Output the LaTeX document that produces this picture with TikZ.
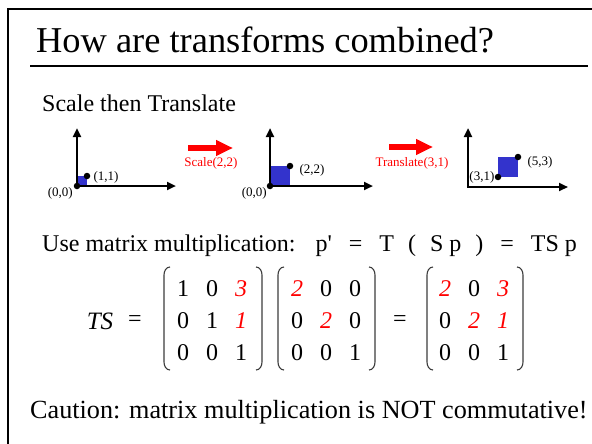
\documentclass[tikz,border=0pt]{standalone}
\usepackage{fontspec}
\setmainfont{Liberation Serif}
\newfontfamily\rawserif{Liberation Serif}
\usetikzlibrary{arrows.meta}
\definecolor{sqblue}{RGB}{51,51,204}
\definecolor{tred}{RGB}{255,0,0}
\definecolor{brk}{RGB}{60,60,60}
\begin{document}
\begin{tikzpicture}[x=1pt,y=-1pt,
  axis/.style={line width=2.5pt,-{Triangle[length=9pt,width=8pt]}},
  dot/.style={circle,fill=black,inner sep=0pt,minimum size=6.5pt},
  lbl/.style={font=\fontsize{13}{15}\selectfont,inner sep=1pt},
  redlbl/.style={lbl,text=tred},
  redarrow/.style={draw=tred,line width=6pt,-{Triangle[length=17pt,width=15pt]}},
  body/.style={font=\fontsize{24}{28}\selectfont,inner sep=0pt,anchor=base west},
  ent/.style={font=\fontsize{24}{28}\selectfont,inner sep=0pt},
  rent/.style={ent,text=tred,font=\fontsize{24}{28}\selectfont\itshape},
  bracket/.style={draw=brk,line width=1.1pt}
]
\useasboundingbox (0,0) rectangle (592,444);
\fill[white] (0,0) rectangle (592,444);
% frame
\draw[line width=2.5pt] (8,446) -- (8,9) -- (594,9);
% title
\node[anchor=base west,inner sep=0pt,font=\fontsize{36.4}{40}\selectfont] (title) at (36,53) {How are transforms combined?};
\coordinate (ulA) at (30,66);
\coordinate (ulB) at (588,66);
\draw[line width=2pt] (ulA) -- (ulB);
\node[body] (sub) at (42,111) {Scale then Translate};

% graph 1
\coordinate (o1) at (77,186);
\coordinate (y1) at (77,128);
\coordinate (x1) at (176,186);
\fill[sqblue] (o1) rectangle ++(10,-10);
\draw[axis] ([yshift=1.25pt]o1) -- (y1);
\draw[axis] ([xshift=-1.25pt]o1) -- (x1);
\node[dot] (d1o) at (o1) {};
\node[dot] (d1) at (87,176) {};
\node[lbl,anchor=west] (l1) at ([xshift=2pt,yshift=-1pt]d1.east) {(1,1)};
\node[lbl,anchor=east] (l1o) at (74,193) {(0,0)};

% arrow 1
\coordinate (a1s) at (188,148);
\coordinate (a1e) at (233,148);
\draw[redarrow] (a1s) -- (a1e);
\node[redlbl] (t1) at (211,163) {Scale(2,2)};

% graph 2
\coordinate (o2) at (270,186);
\coordinate (y2) at (270,128);
\coordinate (x2) at (373,186);
\fill[sqblue] (o2) rectangle ++(20,-20);
\draw[axis] ([yshift=1.25pt]o2) -- (y2);
\draw[axis] ([xshift=-1.25pt]o2) -- (x2);
\node[dot] (d2o) at (o2) {};
\node[dot] (d2) at (290,166) {};
\node[lbl,anchor=west] (l2) at ([xshift=5pt,yshift=-4pt]d2.east) {(2,2)};
\node[lbl,anchor=east] (l2o) at (268,193) {(0,0)};

% arrow 2
\coordinate (a2s) at (389,147);
\coordinate (a2e) at (433,147);
\draw[redarrow] (a2s) -- (a2e);
\node[redlbl] (t2) at (412,163) {Translate(3,1)};

% graph 3
\coordinate (o3) at (468,187);
\coordinate (y3) at (468,128);
\coordinate (x3) at (568,187);
\fill[sqblue] (498,177) rectangle (518,157);
\draw[axis] ([yshift=1.25pt]o3) -- (y3);
\draw[axis] ([xshift=-1.25pt]o3) -- (x3);
\node[dot] (d3a) at (498,177) {};
\node[dot] (d3b) at (518,157) {};
\node[lbl,anchor=east] (l3a) at ([xshift=1pt]d3a.west) {(3,1)};
\node[lbl,anchor=west] (l3b) at ([xshift=5pt,yshift=-5pt]d3b.east) {(5,3)};

% equation line
\node[body] (use) at (42,251) {Use matrix multiplication:\hspace{20pt}p{\rawserif '}\hspace{17pt}=\hspace{17pt}T\hspace{14pt}(\hspace{14pt}S p\hspace{14pt})\hspace{17pt}=\hspace{17pt}TS p};

% matrices
\node[font=\fontsize{25}{28}\selectfont\itshape,inner sep=0pt] (ts) at (100,321) {TS};
\node[ent] (eq1) at (135,321) {=};
\node[ent] (eq2) at (400,321) {=};

% matrix 1
\node[ent] (a11) at (183,289) {1};
\node[ent] (a12) at (212,289) {0};
\node[rent] (a13) at (241,289) {3};
\node[ent] (a21) at (183,321) {0};
\node[ent] (a22) at (212,321) {1};
\node[rent] (a23) at (241,321) {1};
\node[ent] (a31) at (183,353) {0};
\node[ent] (a32) at (212,353) {0};
\node[ent] (a33) at (241,353) {1};
% matrix 2
\node[rent] (b11) at (297,289) {2};
\node[ent] (b12) at (326,289) {0};
\node[ent] (b13) at (355,289) {0};
\node[ent] (b21) at (297,321) {0};
\node[rent] (b22) at (326,321) {2};
\node[ent] (b23) at (355,321) {0};
\node[ent] (b31) at (297,353) {0};
\node[ent] (b32) at (326,353) {0};
\node[ent] (b33) at (355,353) {1};
% matrix 3
\node[rent] (c11) at (445,289) {2};
\node[ent] (c12) at (474,289) {0};
\node[rent] (c13) at (503,289) {3};
\node[ent] (c21) at (445,321) {0};
\node[rent] (c22) at (474,321) {2};
\node[rent] (c23) at (503,321) {1};
\node[ent] (c31) at (445,353) {0};
\node[ent] (c32) at (474,353) {0};
\node[ent] (c33) at (503,353) {1};

% brackets
\foreach \L/\R in {164/262, 278/375, 427/523}{
  \draw[bracket] (\L+6,267) to[out=180,in=90] (\L,275) -- (\L,362) to[out=270,in=180] (\L+6,370);
  \draw[bracket] (\R-6,267) to[out=0,in=90] (\R,275) -- (\R,362) to[out=270,in=0] (\R-6,370);
}

\node[anchor=base west,inner sep=0pt,font=\fontsize{26.2}{30}\selectfont] (caution) at (30,418) {Caution: matrix multiplication is NOT commutative!};
\end{tikzpicture}
\end{document}
